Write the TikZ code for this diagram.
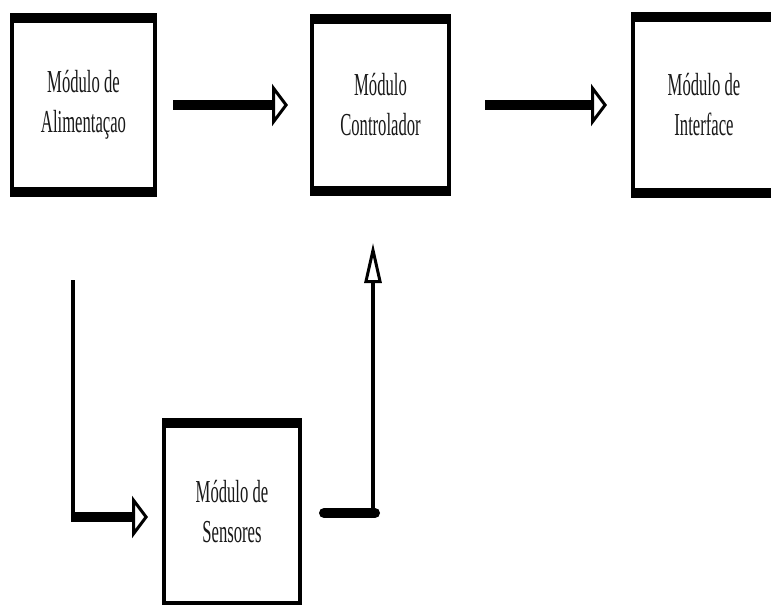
\documentclass[tikz,border=0pt]{standalone}
\usepackage{fontspec}
\newfontfamily\modfont{Liberation Serif}[FakeStretch=0.52]
\usetikzlibrary{arrows.meta,positioning}
\definecolor{Tinta}{RGB}{25,25,25}
\tikzset{
  modulo/.style={rectangle,draw=black,line width=2pt,fill=white,
                 text=Tinta,align=center,
                 font=\modfont\fontsize{16pt}{20pt}\selectfont},
  barra/.style={fill=black},
  seta/.style={-{Triangle[open,length=8pt,width=21pt,line width=1.5pt]},
               line width=5pt},
  fio/.style={line width=2pt},
}

\begin{document}
\begin{tikzpicture}[x=0.5pt,y=-0.5pt]
    \clip (0,0) rectangle (771,615);
    \fill[white] (0,0) rectangle (771,615);

    \node[modulo,minimum width=71.5pt,minimum height=90pt] (alim) at (83.5,105)
        {M\'odulo de\\Alimenta\c{c}ao};
    \node[modulo,minimum width=68.5pt,minimum height=89pt] (contr) at (380.5,105)
        {M\'odulo\\Controlador};
    \node[modulo,minimum width=71pt,minimum height=91pt] (inter) at (704,105)
        {M\'odulo de\\Interface};
    \node[modulo,minimum width=68pt,minimum height=91.5pt] (sens) at (232,511.5)
        {M\'odulo de\\Sensores};

    % bordas grossas
    \foreach \m in {alim,contr,inter} {
      \fill[barra] (\m.north west) rectangle ([yshift=-5pt]\m.north east);
      \fill[barra] (\m.south west) rectangle ([yshift=5pt]\m.south east);
    }
    \fill[barra] (sens.north west) rectangle ([yshift=-5pt]sens.north east);

    \coordinate (c1) at (73,280);
    \coordinate (c2) at (73,517);
    \coordinate (c3) at (373,513);

    \draw[seta,shorten <=8pt,shorten >=11pt] (alim) -- (contr);
    \draw[seta,shorten <=17pt,shorten >=12pt] (contr) -- (inter);

    \draw[fio] (c1) -- (c2);
    \draw[seta,shorten >=7pt] ([xshift=-1pt]c2) -- (c2 -| sens.west);

    \draw[line width=5pt,line cap=round,shorten <=11pt] (sens.east |- c3) -- ([xshift=1pt]c3);
    \draw[fio,-{Triangle[open,length=20pt,width=8.5pt,line width=1.5pt]},shorten >=23.5pt]
        ([yshift=-2.5pt]c3) -- (c3 |- contr.south);
\end{tikzpicture}
\end{document}
